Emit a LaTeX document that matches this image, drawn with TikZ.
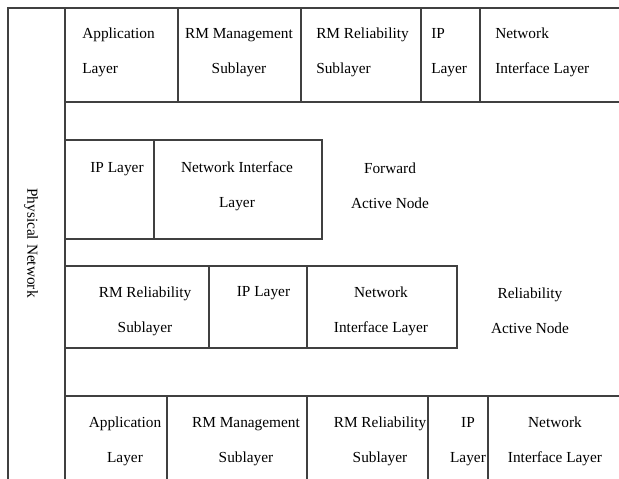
\documentclass[tikz,border=0pt]{standalone}
\usepackage{fontspec}
\setmainfont{Liberation Serif}

\begin{document}
\begin{tikzpicture}[
    x=0.75pt, y=-0.75pt,
    grid/.style={draw=black!75, line width=0.8pt},
    txt/.style={font=\fontsize{11.5}{26.5}\selectfont, inner sep=0pt, align=center},
    txtl/.style={txt, align=left, anchor=west}
]
    \useasboundingbox (0,0) rectangle (619,479);
    % Physical network column
    \draw[grid] (8,479) -- (8,8) -- (619,8);
    \draw[grid] (65,8) -- (65,479);
    \node[txt, rotate=-90] (phys) at (31,243) {Physical Network};
    % Top stack
    \draw[grid] (65,102) -- (619,102);
    \foreach \x in {178,301,421,480} {
        \draw[grid] (\x,8) -- (\x,102);
    }
    \node[txtl] (A1) at (82,52.5) {Application\\Layer};
    \node[txt] (M1) at (239,52.5) {RM Management\\Sublayer};
    \node[txtl] (R1) at (316,52.5) {RM Reliability\\Sublayer};
    \node[txtl] (I1) at (431,52.5) {IP\\Layer};
    \node[txtl] (N1) at (495,52.5) {Network\\Interface Layer};
    % Forward active node
    \draw[grid] (65,140) rectangle (322,239);
    \draw[grid] (154,140) -- (154,239);
    \node[txt] (I2) at (117,169) {IP Layer};
    \node[txt] (N2) at (237,186.5) {Network Interface\\Layer};
    \node[txt] (F2) at (390,186) {Forward\\Active Node};
    % Reliability active node
    \draw[grid] (65,266) rectangle (457,348);
    \foreach \x in {209,307} {
        \draw[grid] (\x,266) -- (\x,348);
    }
    \node[txt] (R3) at (145,311) {RM Reliability\\Sublayer};
    \node[txt] (I3) at (263.5,293) {IP Layer};
    \node[txt] (N3) at (381,311) {Network\\Interface Layer};
    \node[txt] (L3) at (530,311) {Reliability\\Active Node};
    % Bottom stack
    \draw[grid] (65,396) -- (619,396);
    \foreach \x in {167,307,428,488} {
        \draw[grid] (\x,396) -- (\x,479);
    }
    \node[txt] (A4) at (125,441.5) {Application\\Layer};
    \node[txt] (M4) at (246,441.5) {RM Management\\Sublayer};
    \node[txt] (R4) at (380,441.5) {RM Reliability\\Sublayer};
    \node[txt] (I4) at (468,441.5) {IP\\Layer};
    \node[txt] (N4) at (555,441.5) {Network\\Interface Layer};
\end{tikzpicture}
\end{document}
